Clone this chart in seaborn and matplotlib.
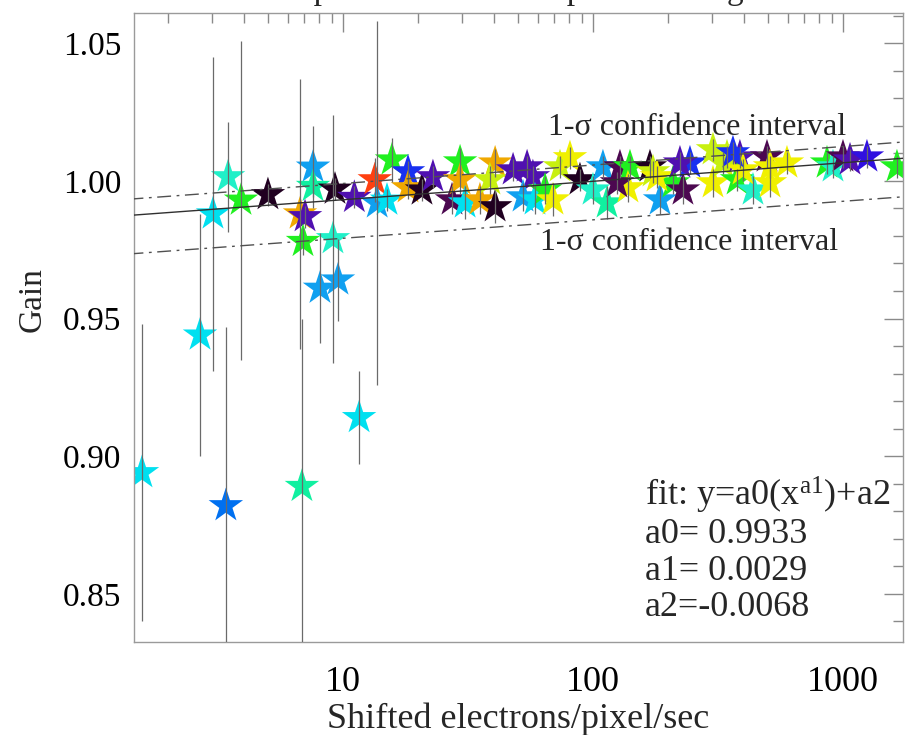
"""Gain vs shifted electrons/pixel/sec, with power-law fit and 1-sigma band."""

import numpy as np
import pandas as pd
import seaborn as sns
import matplotlib.pyplot as plt
from matplotlib.ticker import MultipleLocator, LogLocator, NullFormatter, FixedLocator, FixedFormatter

# data
rate = [1.57, 2.68, 3.02, 3.47, 3.91, 5.01, 6.73, 7.05, 6.92, 6.85,
        7.59, 7.59, 8.09, 9.12, 9.55, 9.29, 11.1, 13.4, 13.7, 15.0,
        15.7, 18.2, 18.2, 20.7, 11.6, 3.40, 22.9, 27.3, 29.4, 29.4,
        30.8, 35.3, 40.6, 40.6, 38.7, 47.9, 54.5, 57.5, 52.5, 58.6,
        64.3, 69.2, 73.8, 80.9, 88.7, 100.0, 113.8, 109.6, 128.2, 140.6,
        138.0, 169.0, 173.8, 185.4, 208.9, 229.0, 244.3, 302.0, 302.0, 331.0,
        387.0, 377.0, 436.5, 496.6, 510.5, 510.5, 597.0, 863.0, 912.0, 1000.0,
        1067.0, 1247.0, 1644.0, 124.7, 180.3, 222.8, 343.6, 398.0, 363.0]
gain = [0.894, 0.944, 0.988, 1.0015, 0.993, 0.995, 0.988, 0.987, 0.978, 0.889,
        1.005, 0.998, 0.961, 0.979, 0.964, 0.997, 0.994, 1.0004, 0.992, 0.993,
        1.0076, 1.0033, 0.9975, 0.9967, 0.914, 0.882, 1.0015, 0.9931, 1.0069, 1.0004,
        0.992, 0.9931, 1.0065, 0.9906, 1.0004, 1.004, 1.0051, 1.0015, 0.9942, 0.9931,
        0.9967, 0.9931, 1.0051, 1.0084, 1.0004, 0.9967, 0.992, 1.0051, 1.0051, 1.0051,
        0.9975, 1.0051, 1.0033, 0.9931, 0.9993, 0.9967, 1.0065, 0.9993, 1.0113, 1.0065,
        1.0087, 1.0004, 0.9967, 1.0087, 1.0051, 0.9993, 1.0065, 1.0065, 1.0051, 1.0087,
        1.0076, 1.0087, 1.0051, 0.9993, 1.0015, 1.0065, 1.0087, 1.004, 1.0102]
gain_err = [0.054, 0.044, 0.057, 0.020, 0.058, 0.004, 0.049, 0.004, 0.005, 0.061,
            0.015, 0.004, 0.020, 0.045, 0.015, 0.004, 0.004, 0.008, 0.066, 0.004,
            0.008, 0.004, 0.004, 0.004, 0.017, 0.065, 0.004, 0.005, 0.005, 0.005,
            0.006, 0.005, 0.005, 0.006, 0.005, 0.004, 0.004, 0.004, 0.005, 0.005,
            0.005, 0.006, 0.004, 0.004, 0.004, 0.005, 0.006, 0.004, 0.004, 0.004,
            0.005, 0.004, 0.004, 0.005, 0.004, 0.005, 0.004, 0.005, 0.004, 0.004,
            0.004, 0.004, 0.005, 0.004, 0.004, 0.005, 0.004, 0.004, 0.004, 0.004,
            0.004, 0.004, 0.004, 0.004, 0.004, 0.004, 0.004, 0.004, 0.004]
group = ['cyan', 'cyan', 'cyan', 'aqua', 'green', 'black', 'orange', 'purple', 'green', 'sea',
         'azure', 'sea', 'azure', 'aqua', 'azure', 'black', 'purple', 'red', 'azure', 'cyan',
         'green', 'blue', 'orange', 'black', 'cyan', 'royal', 'purple', 'dkpurple', 'green', 'orange',
         'cyan', 'orange', 'orange', 'black', 'lime', 'purple', 'purple', 'purple', 'azure', 'cyan',
         'green', 'yellow', 'lime', 'yellow', 'black', 'aqua', 'sea', 'azure', 'dkpurple', 'green',
         'yellow', 'black', 'lime', 'azure', 'green', 'dkpurple', 'blue', 'yellow', 'lime', 'lime',
         'purple', 'green', 'aqua', 'dkpurple', 'yellow', 'yellow', 'yellow', 'green', 'aqua', 'dkpurple',
         'purple', 'indigo', 'green', 'dkpurple', 'yellow', 'purple', 'lime', 'yellow', 'blue']

palette = {'black': '#200020', 'dkpurple': '#4c0850', 'purple': '#5010b0', 'indigo': '#3010e0',
           'blue': '#1830f0', 'royal': '#0070f0', 'azure': '#10a0f0', 'cyan': '#00e0f0',
           'aqua': '#20f0c8', 'sea': '#10f0a0', 'green': '#20f020', 'lime': '#c8f010',
           'yellow': '#f0f000', 'orange': '#f0a800', 'red': '#ff4010'}

# fit parameters y = a0 * x**a1 + a2, and 1-sigma offsets
a0, a1, a2 = 0.9933, 0.0029, -0.0068
sig_hi, sig_lo = 0.0059, -0.0140

df = pd.DataFrame({'rate': rate, 'gain': gain, 'err': gain_err, 'group': group})

sns.set_theme(style='white')
plt.rcParams['font.family'] = ['Liberation Serif', 'DejaVu Serif']
plt.rcParams['mathtext.fontset'] = 'custom'
plt.rcParams['mathtext.rm'] = 'Liberation Serif'
plt.rcParams['mathtext.it'] = 'Liberation Serif:italic'

fig = plt.figure(figsize=(9.05, 7.35), dpi=100)
ax = fig.add_axes([134 / 905, 1 - 642 / 735, 769 / 905, 629 / 735])

sns.scatterplot(data=df, x='rate', y='gain', hue='group', palette=palette,
                marker='*', s=680, linewidth=0, legend=False, ax=ax, zorder=2)
ax.errorbar(df['rate'], df['gain'], yerr=df['err'], fmt='none',
            ecolor='#6a6a6a', elinewidth=0.9, capsize=0, zorder=3)

xf = np.geomspace(1.4, 1800, 300)
yf = a0 * xf ** a1 + a2
ax.plot(xf, yf, color='#303030', lw=1.0, zorder=4)
ax.plot(xf, yf + sig_hi, color='#505050', lw=1.0, dashes=(10, 4, 2, 4), zorder=4)
ax.plot(xf, yf + sig_lo, color='#505050', lw=1.0, dashes=(10, 4, 2, 4), zorder=4)

ax.set_xscale('log')
ax.set_xlim(1.459, 1738)
ax.set_ylim(0.8325, 1.061)

ax.xaxis.set_major_locator(FixedLocator([10, 100, 1000]))
ax.xaxis.set_major_formatter(FixedFormatter(['10', '100', '1000']))
ax.xaxis.set_minor_locator(LogLocator(base=10, subs=np.arange(2, 10)))
ax.xaxis.set_minor_formatter(NullFormatter())
ax.yaxis.set_major_locator(MultipleLocator(0.05))
ax.yaxis.set_minor_locator(MultipleLocator(0.01))
ax.yaxis.set_major_formatter(plt.FuncFormatter(lambda v, p: f'{v:.2f}'))

ax.tick_params(which='both', direction='in', top=True, right=True,
               color='#8a8a8a', width=1, labelcolor='black')
ax.tick_params(axis='y', labelsize=24, pad=9)
ax.tick_params(axis='x', labelsize=26, pad=17)
ax.tick_params(which='major', length=14)
ax.tick_params(which='minor', length=7)
for sp in ax.spines.values():
    sp.set_color('#9a9a9a')
    sp.set_linewidth(1)

ax.set_xlabel('Shifted electrons/pixel/sec', fontsize=26, labelpad=3)
ax.set_ylabel('Gain', fontsize=24)
ax.yaxis.set_label_coords(-0.112, 0.545)

ax.text(260.6, 1.0193, '1-σ confidence interval', fontsize=23, ha='center', va='center')
ax.text(242, 0.9775, '1-σ confidence interval', fontsize=23, ha='center', va='center')

fit_lines = [r'fit: y=a0(x$^{\mathrm{a1}}$)+a2', 'a0= 0.9933', 'a1= 0.0029', 'a2=-0.0068']
fit_y = [0.8819, 0.8685, 0.8550, 0.8419]
for t, yy in zip(fit_lines, fit_y):
    ax.text(161, yy, t, fontsize=26, ha='left', va='baseline')

# title is cut off at the top edge in the reference: only descenders show
fig.text(0.52, 1 + 1 / 735, 'Gain comparison for the temperature range',
         fontsize=24, ha='center', va='baseline')

fig.savefig('out.png', dpi=100, facecolor='white')
